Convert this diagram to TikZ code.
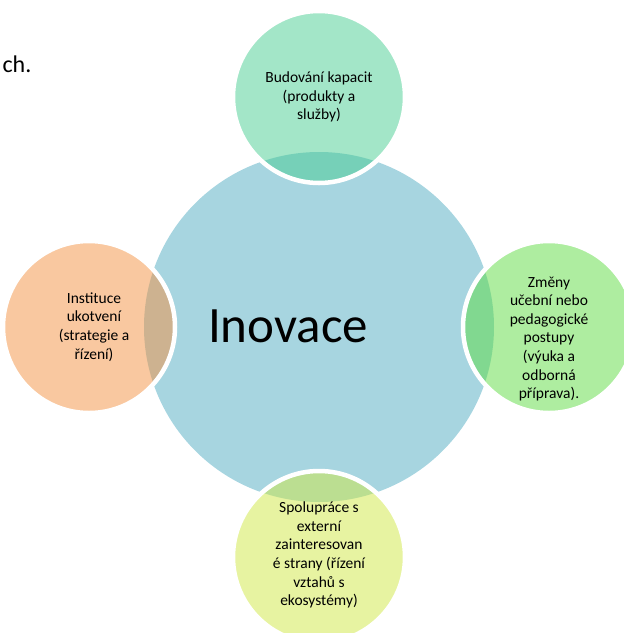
\documentclass[tikz,border=0pt]{standalone}
\usepackage{fontspec}
\setmainfont{Carlito}
\usepackage{xcolor}
\definecolor{stred}{RGB}{167,213,224}
\definecolor{mata}{RGB}{71,205,145}
\definecolor{broskev}{RGB}{243,145,65}
\definecolor{trava}{RGB}{93,219,65}
\definecolor{limeta}{RGB}{207,231,67}

\begin{document}
\begin{tikzpicture}[x=1pt, y=-1pt,
		kruh/.style={circle, minimum size=172pt, inner sep=0pt, fill opacity=0.5,
			draw=white, draw opacity=1, line width=4.5pt},
		popis/.style={align=center, inner sep=0pt, font=\fontsize{15.5}{18.6}\selectfont}]
		\useasboundingbox (0,0) rectangle (624,633);
		\node[anchor=base west, font=\fontsize{24}{28}\selectfont] (ch) at (-1,72) {ch.};
		% stredni kruh
		\node[circle, minimum size=350pt, inner sep=0pt, fill=stred] (inovace) at (319,327) {};
		\node[anchor=base, font=\fontsize{51}{60}\selectfont] (inovace-t) at (288,342) {Inovace};
		% ctyri kruhy kolem
		\node[kruh, fill=mata] (budovani) at (319,97) {};
		\node[kruh, fill=trava] (zmeny) at (549,327) {};
		\node[kruh, fill=limeta] (spoluprace) at (319,557) {};
		\node[kruh, fill=broskev] (instituce) at (89,327) {};
		\node[popis] (budovani-t) at (budovani.center) {Budování kapacit\\(produkty a\\služby)};
		\node[popis] (zmeny-t) at ([yshift=-12pt]zmeny.center) {Změny\\učební nebo\\pedagogické\\postupy\\(výuka a\\odborná\\příprava).};
		\node[popis] (spoluprace-t) at ([yshift=2pt]spoluprace.center) {Spolupráce s\\externí\\zainteresovan\\é strany (řízení\\vztahů s\\ekosystémy)};
		\node[popis] (instituce-t) at (94,327) {Instituce\\ukotvení\\(strategie a\\řízení)};
\end{tikzpicture}
\end{document}
